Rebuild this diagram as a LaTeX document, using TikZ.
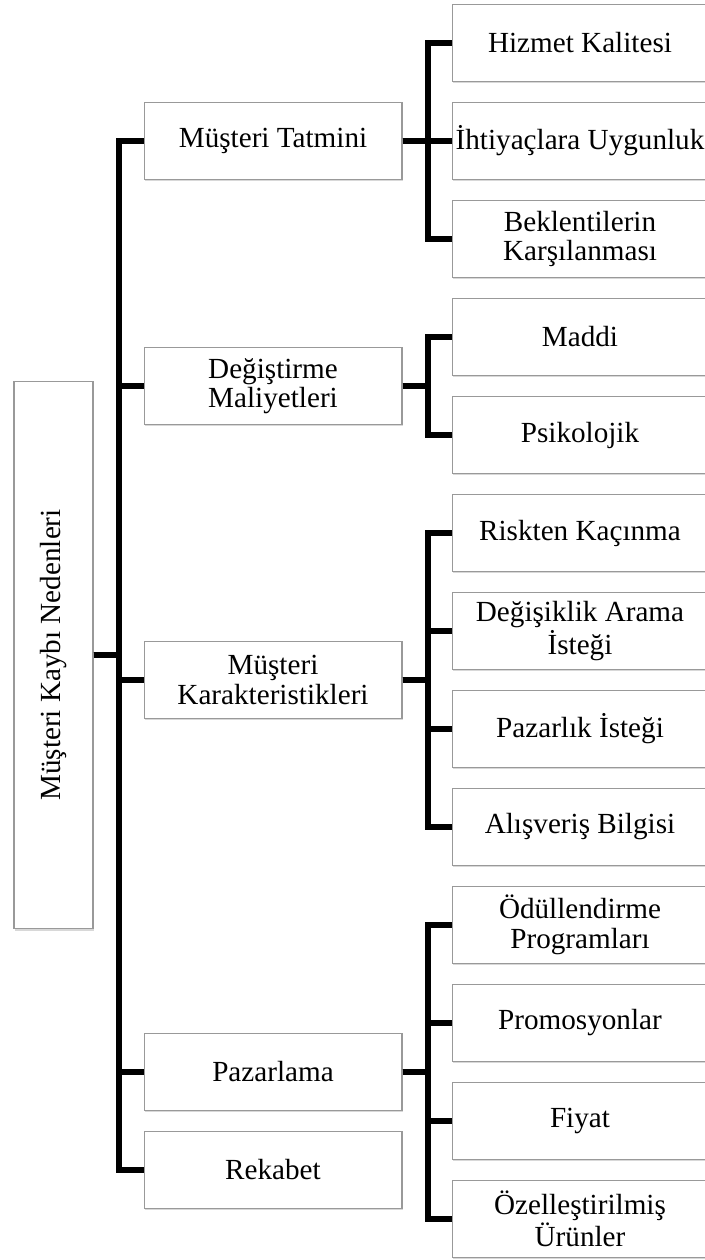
\documentclass[tikz,border=0pt]{standalone}
\usepackage{fontspec}
\setmainfont{Liberation Serif}
\usetikzlibrary{shadows}

\begin{document}
\begin{tikzpicture}[
          x=0.02cm, y=-0.02cm,
          box/.style={draw=black!40, line width=0.6pt, fill=white, align=center, inner xsep=1pt, inner ysep=1pt,
            font=\fontsize{16.6}{16.8}\selectfont,
            drop shadow={shadow xshift=0.5pt, shadow yshift=-1.1pt, fill=black!30}},
          cause/.style={box, minimum width=5.16cm, minimum height=1.54cm},
          factor/.style={box, minimum width=5.12cm, minimum height=1.54cm},
          conn/.style={line width=3pt, line join=miter},
        ]
          \useasboundingbox (0,0) rectangle (705,1260);

          % root
          \node[box, minimum width=1.58cm, minimum height=10.96cm] (root) at (53.5,655) {\rotatebox{90}{Müşteri Kaybı Nedenleri}};

          % first level
          \node[cause] (tatmin) at (273,141) {Müşteri Tatmini};
          \node[cause] (degis) at (273,386) {Değiştirme\\Maliyetleri};
          \node[cause] (karakter) at (273,680) {Müşteri\\Karakteristikleri};
          \node[cause] (pazar) at (273,1072) {Pazarlama};
          \node[cause] (rekabet) at (273,1170) {Rekabet};

          % second level
          \node[factor] (hizmet) at (580,43) {Hizmet Kalitesi};
          \node[factor] (ihtiyac) at (580,141) {İhtiyaçlara Uygunluk};
          \node[factor] (beklenti) at (580,239) {Beklentilerin\\Karşılanması};
          \node[factor] (maddi) at (580,337) {Maddi};
          \node[factor] (psiko) at (580,435) {Psikolojik};
          \node[factor] (risk) at (580,533) {Riskten Kaçınma};
          \node[factor] (degisik) at (580,631) {Değişiklik Arama\\İsteği};
          \node[factor] (pazarlik) at (580,729) {Pazarlık İsteği};
          \node[factor] (alisveris) at (580,827) {Alışveriş Bilgisi};
          \node[factor] (odul) at (580,925) {Ödüllendirme\\Programları};
          \node[factor] (promo) at (580,1023) {Promosyonlar};
          \node[factor] (fiyat) at (580,1121) {Fiyat};
          \node[factor] (ozel) at (580,1219) {Özelleştirilmiş\\Ürünler};

          \coordinate (busA) at (119,0);
          \coordinate (busB) at (428,0);

          \draw[conn] (root.east) -- (root.east -| busA) |- (tatmin.west);
          \draw[conn] (root.east) -- (root.east -| busA) |- (degis.west);
          \draw[conn] (root.east) -- (root.east -| busA) |- (karakter.west);
          \draw[conn] (root.east) -- (root.east -| busA) |- (pazar.west);
          \draw[conn] (root.east) -- (root.east -| busA) |- (rekabet.west);

          \draw[conn] (tatmin.east) -- (tatmin.east -| busB) |- (hizmet.west);
          \draw[conn] (tatmin.east) -- (tatmin.east -| busB) |- (ihtiyac.west);
          \draw[conn] (tatmin.east) -- (tatmin.east -| busB) |- (beklenti.west);
          \draw[conn] (degis.east) -- (degis.east -| busB) |- (maddi.west);
          \draw[conn] (degis.east) -- (degis.east -| busB) |- (psiko.west);
          \draw[conn] (karakter.east) -- (karakter.east -| busB) |- (risk.west);
          \draw[conn] (karakter.east) -- (karakter.east -| busB) |- (degisik.west);
          \draw[conn] (karakter.east) -- (karakter.east -| busB) |- (pazarlik.west);
          \draw[conn] (karakter.east) -- (karakter.east -| busB) |- (alisveris.west);
          \draw[conn] (pazar.east) -- (pazar.east -| busB) |- (odul.west);
          \draw[conn] (pazar.east) -- (pazar.east -| busB) |- (promo.west);
          \draw[conn] (pazar.east) -- (pazar.east -| busB) |- (fiyat.west);
          \draw[conn] (pazar.east) -- (pazar.east -| busB) |- (ozel.west);
        \end{tikzpicture}
\end{document}
